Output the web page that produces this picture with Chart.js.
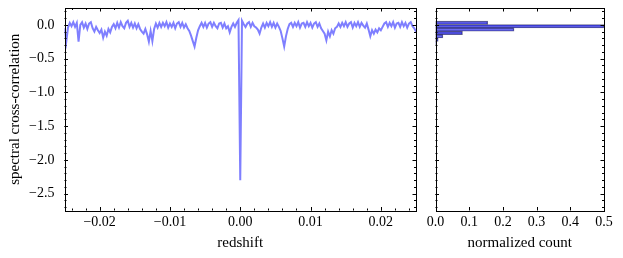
<!DOCTYPE html>
<html>
<head>
<meta charset="utf-8">
<script src="https://cdn.jsdelivr.net/npm/chart.js@4"></script>
<style>
  body { margin: 0; background: #fff; }
  #wrap { position: relative; width: 623px; height: 258px; }
  canvas { position: absolute; top: 0; }
  #line-chart { left: 0; }
  #hist-chart { left: 420px; }
</style>
</head>
<body>
<div id="wrap">
  <canvas id="line-chart" width="420" height="258"></canvas>
  <canvas id="hist-chart" width="203" height="258"></canvas>
</div>
<script>
// redshift grid of the cross-correlation
const redshift = [
  -0.025,-0.02475,-0.0245,-0.02425,-0.024,-0.02375,-0.0235,-0.02325,-0.023,-0.02275,
  -0.0225,-0.02225,-0.022,-0.02175,-0.0215,-0.02125,-0.021,-0.02075,-0.0205,-0.02025,
  -0.02,-0.01975,-0.0195,-0.01925,-0.019,-0.01875,-0.0185,-0.01825,-0.018,-0.01775,
  -0.0175,-0.01725,-0.017,-0.01675,-0.0165,-0.01625,-0.016,-0.01575,-0.0155,-0.01525,
  -0.015,-0.01475,-0.0145,-0.01425,-0.014,-0.01375,-0.0135,-0.01325,-0.013,-0.01275,
  -0.0125,-0.01225,-0.012,-0.01175,-0.0115,-0.01125,-0.011,-0.01075,-0.0105,-0.01025,
  -0.01,-0.00975,-0.0095,-0.00925,-0.009,-0.00875,-0.0085,-0.00825,-0.008,-0.00775,
  -0.0075,-0.00725,-0.007,-0.00675,-0.0065,-0.00625,-0.006,-0.00575,-0.0055,-0.00525,
  -0.005,-0.00475,-0.0045,-0.00425,-0.004,-0.00375,-0.0035,-0.00325,-0.003,-0.00275,
  -0.0025,-0.00225,-0.002,-0.00175,-0.0015,-0.00125,-0.001,-0.00075,-0.0005,-0.00025,
  0,
  0.00025,0.0005,0.00075,0.001,0.00125,0.0015,0.00175,0.002,0.00225,0.0025,
  0.00275,0.003,0.00325,0.0035,0.00375,0.004,0.00425,0.0045,0.00475,0.005,
  0.00525,0.0055,0.00575,0.006,0.00625,0.0065,0.00675,0.007,0.00725,0.0075,
  0.00775,0.008,0.00825,0.0085,0.00875,0.009,0.00925,0.0095,0.00975,0.01,
  0.01025,0.0105,0.01075,0.011,0.01125,0.0115,0.01175,0.012,0.01225,0.0125,
  0.01275,0.013,0.01325,0.0135,0.01375,0.014,0.01425,0.0145,0.01475,0.015,
  0.01525,0.0155,0.01575,0.016,0.01625,0.0165,0.01675,0.017,0.01725,0.0175,
  0.01775,0.018,0.01825,0.0185,0.01875,0.019,0.01925,0.0195,0.01975,0.02,
  0.02025,0.0205,0.02075,0.021,0.02125,0.0215,0.02175,0.022,0.02225,0.0225,
  0.02275,0.023,0.02325,0.0235,0.02375,0.024,0.02425,0.0245,0.02475,0.025
];

// spectral cross-correlation
const xcorr = [
  -0.05,-0.25,-0.04,0.03,-0.02,0.04,-0.03,0.03,-0.25,0.00,
  0.04,-0.04,0.02,-0.06,0.02,0.04,-0.05,-0.10,-0.03,-0.08,
  -0.12,-0.07,-0.19,-0.10,-0.16,-0.06,-0.11,-0.03,0.01,-0.05,
  0.03,-0.04,0.04,-0.02,-0.05,0.03,0.06,-0.03,0.03,-0.04,
  0.02,-0.05,0.01,-0.06,-0.10,-0.13,-0.06,-0.14,-0.25,-0.09,
  -0.24,-0.06,0.02,-0.04,0.03,-0.03,0.03,-0.02,0.04,-0.04,
  0.02,-0.03,0.03,-0.05,0.02,0.04,-0.03,0.03,-0.04,0.01,
  -0.05,-0.09,-0.16,-0.24,-0.32,-0.19,-0.08,-0.02,0.03,-0.03,
  0.03,-0.04,0.02,0.04,-0.03,0.03,-0.02,-0.05,0.02,0.03,
  -0.04,0.02,-0.05,-0.02,-0.11,-0.03,0.02,-0.03,0.03,0.07,
  -2.30,
  0.06,0.01,-0.03,0.02,0.04,-0.03,0.03,-0.02,-0.04,-0.07,
  -0.13,-0.04,0.02,-0.04,0.03,-0.02,0.04,-0.03,0.03,-0.04,
  0.02,-0.03,-0.09,-0.20,-0.32,-0.17,-0.06,0.01,0.03,-0.03,
  0.03,-0.02,0.04,-0.04,0.02,0.03,-0.03,0.04,-0.02,0.03,
  -0.04,0.02,0.04,-0.03,0.02,-0.05,-0.09,-0.13,-0.23,-0.10,
  -0.17,-0.08,-0.13,-0.05,-0.03,0.02,-0.03,0.03,-0.02,0.04,
  -0.03,0.02,0.04,-0.04,0.03,-0.02,0.04,-0.03,0.03,-0.01,
  -0.04,0.02,-0.07,-0.17,-0.08,-0.13,-0.07,-0.11,-0.05,-0.08,
  -0.03,0.02,0.04,-0.03,0.03,-0.02,0.04,-0.04,0.02,0.03,
  -0.03,0.04,-0.02,0.03,-0.04,0.02,0.04,-0.02,-0.05,-0.10
];

// histogram of the cross-correlation values
const binCenters = [0.03, -0.02, -0.07, -0.12, -0.17, -0.22, -0.27];
const binCounts = [0.155, 0.5, 0.233, 0.08, 0.022, 0.008, 0.003];

const redshiftTicks = [-0.02, -0.01, 0, 0.01, 0.02];
const corrTicks = [-2.5, -2.0, -1.5, -1.0, -0.5, 0.0];
const countTicks = [0, 0.1, 0.2, 0.3, 0.4, 0.5];

Chart.defaults.font.family = "'Liberation Serif', 'Times New Roman', serif";
Chart.defaults.font.size = 14;
Chart.defaults.color = '#000';

function fmt(v, d) {
  const s = Math.abs(v).toFixed(d);
  return v < 0 && s !== (0).toFixed(d) ? '\u2212' + s : s;
}

function minorTicks(min, max, step) {
  const out = [];
  for (let v = Math.ceil(min / step - 1e-9) * step; v <= max + 1e-12; v += step) out.push(v);
  return out;
}

// inward ticks on all four sides plus the frame
const frameTicks = {
  id: 'frameTicks',
  afterDraw(chart, args, opts) {
    const {ctx, chartArea: a, scales} = chart;
    ctx.save();
    ctx.strokeStyle = '#000';
    ctx.lineWidth = 1;
    ctx.beginPath();
    const xs = (vals, len) => vals.forEach(v => {
      const p = Math.round(scales.x.getPixelForValue(v)) + 0.5;
      ctx.moveTo(p, a.bottom); ctx.lineTo(p, a.bottom - len);
      ctx.moveTo(p, a.top); ctx.lineTo(p, a.top + len);
    });
    const ys = (vals, len) => vals.forEach(v => {
      const p = Math.round(scales.y.getPixelForValue(v)) + 0.5;
      ctx.moveTo(a.left, p); ctx.lineTo(a.left + len, p);
      ctx.moveTo(a.right, p); ctx.lineTo(a.right - len, p);
    });
    xs(opts.xMajor, 3.5);
    xs(opts.xMinor || [], 2);
    ys(opts.yMajor, 3.5);
    ys(opts.yMinor || [], 2);
    ctx.stroke();
    ctx.strokeRect(Math.round(a.left) + 0.5, Math.round(a.top) + 0.5,
      Math.round(a.right) - Math.round(a.left), Math.round(a.bottom) - Math.round(a.top));
    ctx.restore();
  }
};

const setTicks = vals => scale => { scale.ticks = vals.map(v => ({value: v})); };
const fitX = scale => { scale.height = 47.5; scale.paddingLeft = 0; scale.paddingRight = 0; };
const fitY = w => scale => { scale.width = w; scale.paddingTop = 0; scale.paddingBottom = 0; };

new Chart(document.getElementById('line-chart'), {
  type: 'line',
  data: {
    datasets: [{
      data: redshift.map((z, i) => ({x: z, y: xcorr[i]})),
      borderColor: 'rgba(0,0,255,0.5)',
      borderWidth: 2,
      pointRadius: 0,
      tension: 0
    }]
  },
  options: {
    responsive: false,
    animation: false,
    layout: {padding: {top: 8, right: 4, left: 0, bottom: 0}},
    plugins: {
      legend: {display: false},
      tooltip: {enabled: false},
      frameTicks: {
        xMajor: redshiftTicks,
        xMinor: minorTicks(-0.025, 0.025, 0.002),
        yMajor: corrTicks,
        yMinor: minorTicks(-2.75, 0.25, 0.1)
      }
    },
    scales: {
      x: {
        type: 'linear', min: -0.025, max: 0.025,
        afterBuildTicks: setTicks(redshiftTicks),
        ticks: {callback: v => fmt(v, 2), padding: 3, maxRotation: 0, autoSkip: false},
        grid: {display: false, drawTicks: false},
        border: {display: false},
        title: {display: true, text: 'redshift', font: {size: 15}, padding: {top: 0, bottom: 6}},
        afterFit: fitX
      },
      y: {
        type: 'linear', min: -2.75, max: 0.25,
        afterBuildTicks: setTicks(corrTicks),
        ticks: {callback: v => fmt(v, 1), padding: 10, autoSkip: false},
        grid: {display: false, drawTicks: false},
        border: {display: false},
        title: {display: true, text: 'spectral cross-correlation', font: {size: 15}, padding: {top: 6, bottom: 0}},
        afterFit: fitY(64.5)
      }
    }
  },
  plugins: [frameTicks]
});

new Chart(document.getElementById('hist-chart'), {
  type: 'bar',
  data: {
    datasets: [{
      data: binCenters.map((c, i) => ({x: binCounts[i], y: c})),
      backgroundColor: 'rgba(0,0,235,0.58)',
      borderColor: 'rgba(0,0,60,0.6)',
      borderWidth: 0.8,
      borderSkipped: false,
      barPercentage: 1,
      categoryPercentage: 1
    }]
  },
  options: {
    indexAxis: 'y',
    responsive: false,
    animation: false,
    layout: {padding: {top: 8, right: 19, left: 0, bottom: 0}},
    plugins: {
      legend: {display: false},
      tooltip: {enabled: false},
      frameTicks: {
        xMajor: countTicks,
        yMajor: corrTicks,
        yMinor: minorTicks(-2.75, 0.25, 0.1)
      }
    },
    scales: {
      x: {
        type: 'linear', min: 0, max: 0.5,
        afterBuildTicks: setTicks(countTicks),
        ticks: {callback: v => fmt(v, 1), padding: 3, maxRotation: 0, autoSkip: false},
        grid: {display: false, drawTicks: false},
        border: {display: false},
        title: {display: true, text: 'normalized count', font: {size: 15}, padding: {top: 0, bottom: 6}},
        afterFit: fitX
      },
      y: {
        type: 'linear', min: -2.75, max: 0.25, offset: false,
        afterBuildTicks: setTicks(corrTicks),
        ticks: {display: false},
        grid: {display: false, drawTicks: false, offset: false},
        border: {display: false},
        afterFit: fitY(15.5)
      }
    }
  },
  plugins: [frameTicks]
});
</script>
</body>
</html>
